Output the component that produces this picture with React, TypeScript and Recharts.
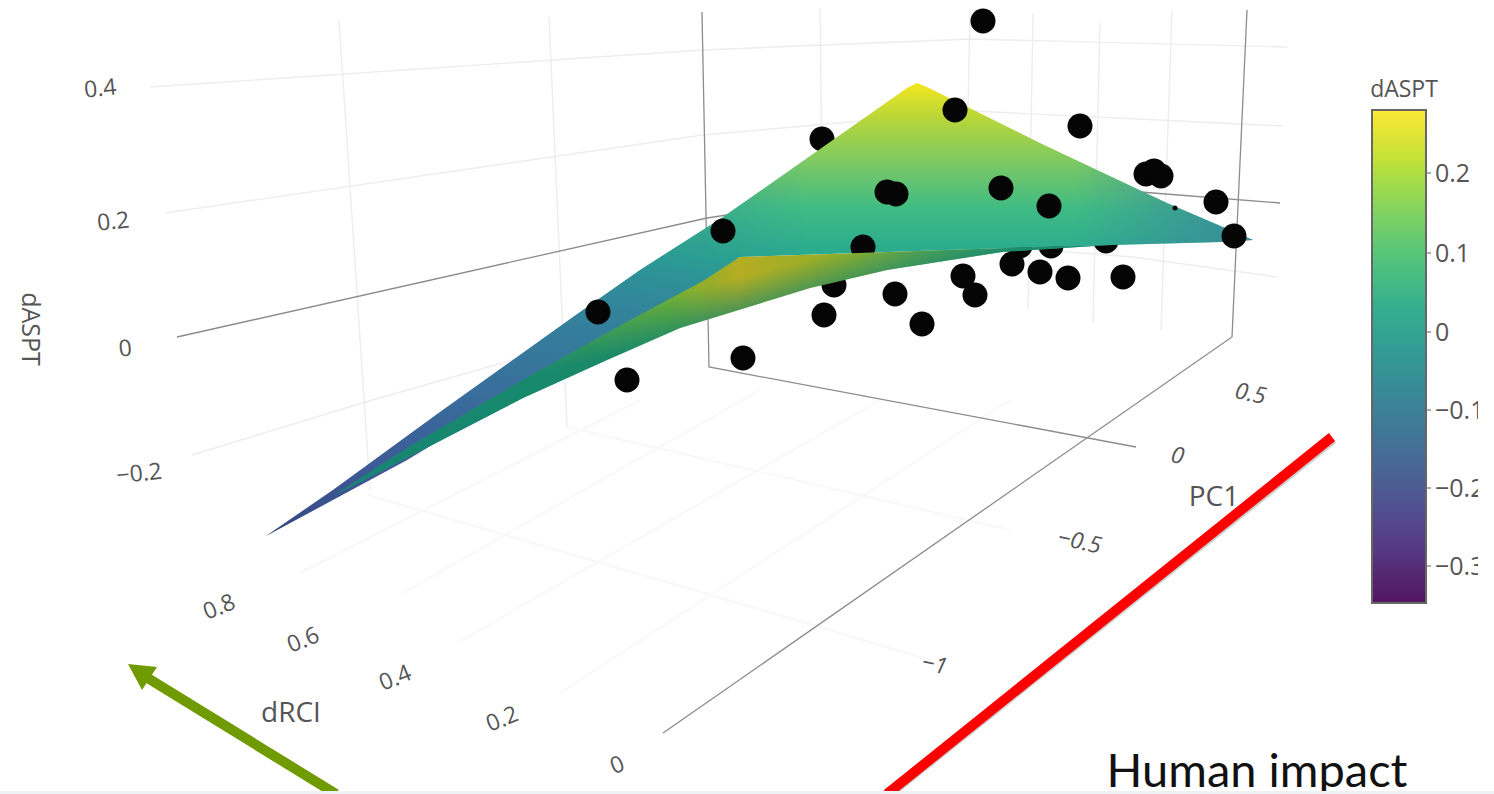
import React from 'react';
import { ScatterChart, Scatter, XAxis, YAxis, ReferenceArea } from 'recharts';

type Pt = [number, number];

// Everything in screen units; the chart's own scales place it
const CHART_W = 1494;
const CHART_H = 794;

const pointsBehind: Pt[] = [[822, 139], [1020, 246], [1051, 246], [1106, 241]];
const pointsBetween: Pt[] = [[863, 247], [834, 285]];
const pointsFront: Pt[] = [
  [983, 21], [955, 110], [1080, 126], [887, 192], [896, 194], [1001, 188], [1049, 206],
  [1146, 174], [1154, 171], [1161, 176], [1216, 202], [1234, 236], [723, 231], [598, 312],
  [627, 380], [743, 358], [824, 315], [895, 294], [922, 324], [963, 276], [975, 295],
  [1012, 264], [1040, 272], [1068, 278], [1123, 277],
];
const pointSliver: Pt[] = [[1175, 208]];

const upperSheet: Pt[] = [
  [266, 536], [333, 490], [440, 412], [573, 317], [640, 270], [723, 217], [907, 88], [917, 83],
  [927, 87], [1040, 143], [1167, 203], [1253, 240], [1220, 242], [1007, 248], [740, 257],
  [703, 283], [623, 330], [523, 390], [407, 460],
];
const lowerSheet: Pt[] = [
  [333, 496], [407, 448], [523, 380], [623, 324], [703, 281], [740, 257], [1007, 248], [1110, 245],
  [1002, 252], [887, 270], [810, 288], [680, 328], [607, 360], [523, 398], [407, 458],
];

const gridLines: Pt[][] = [
  [[150, 87], [703, 50], [970, 39], [1287, 47]],
  [[165, 213], [703, 135], [973, 111], [1283, 126]],
  [[192, 455], [362, 403], [523, 357], [708, 300], [975, 245], [1133, 257], [1277, 277]],
  [[339, 20], [370, 490]],
  [[549, 17], [567, 427]],
  [[820, 8], [823, 260]],
  [[970, 10], [965, 260]],
  [[1033, 13], [1028, 310]],
  [[1100, 23], [1093, 323]],
  [[1172, 10], [1161, 330]],
];
const floorLines: Pt[][] = [
  [[368, 495], [796, 620], [930, 660]],
  [[567, 427], [1010, 530]],
  [[300, 573], [640, 400]],
  [[403, 593], [760, 390]],
  [[457, 643], [880, 400]],
  [[560, 693], [1010, 400]],
];
const axisLines: Pt[][] = [
  [[177, 337], [707, 218], [970, 178], [1153, 193], [1280, 203]],
  [[702, 12], [709, 367], [1136, 447]],
  [[1247, 10], [1232, 337], [663, 733]],
];

const redArrow: Pt[] = [[1332, 437], [887, 794]];
const redShadow: Pt[] = [[1333, 439], [889, 794]];
const greenShaft: Pt[] = [[146, 677], [336, 794]];
const greenHead: Pt[] = [[128, 664], [157, 667], [142, 690]];
const bottomStrip: Pt[] = [[0, 791], [1494, 791], [1494, 794], [0, 794]];
const rightStrip: Pt[] = [[1478, 380], [1494, 380], [1494, 600], [1478, 600]];

const colorbarRange = { x1: 1372, x2: 1426, y1: 110, y2: 603 };

const colorbarTicks: Pt[] = [[1426, 173], [1426, 253], [1426, 332], [1426, 410], [1426, 488], [1426, 566]];
const colorbarLabels = ['0.2', '0.1', '0', '−0.1', '−0.2', '−0.3'];
const zLabels = ['0.4', '0.2', '0', '−0.2'];
const zLabelPos: Pt[] = [[101, 96], [114, 229], [126, 356], [140, 481]];
const pcLabels = ['0.5', '0', '−0.5', '−1'];
const pcLabelPos: Pt[] = [[1249, 401], [1176, 463], [1078, 549], [933, 672]];
const rciLabels = ['0.8', '0.6', '0.4', '0.2', '0'];
const rciLabelPos: Pt[] = [[222, 614], [306, 647], [398, 685], [505, 726], [620, 772]];

const viridis = [
  ['0%', '#fde725'], ['10%', '#bddf26'], ['20%', '#7ad151'], ['30%', '#44bf70'],
  ['40%', '#22a884'], ['50%', '#21918c'], ['60%', '#2a788e'], ['70%', '#355f8d'],
  ['80%', '#414487'], ['90%', '#482475'], ['100%', '#440154'],
];

const toRows = (pts: Pt[]) => pts.map(([x, y]) => ({ x, y }));
const noDot = () => null;

const polyline = (key: string, pts: Pt[], stroke: string, strokeWidth: number) => (
  <Scatter
    key={key}
    data={toRows(pts)}
    line={{ stroke, strokeWidth, fill: 'none' }}
    shape={noDot}
    isAnimationActive={false}
  />
);

const polygon = (key: string, pts: Pt[], fill: string) => (
  <Scatter
    key={key}
    data={toRows(pts)}
    line={{ stroke: 'none', fill }}
    shape={noDot}
    isAnimationActive={false}
  />
);

const dots = (key: string, pts: Pt[], r = 12.5) => (
  <Scatter
    key={key}
    data={toRows(pts)}
    shape={(p: any) => <circle cx={p.cx} cy={p.cy} r={r} fill="#050505" />}
    isAnimationActive={false}
  />
);

// one text per point, drawn through the same scales
const texts = (
  key: string,
  labels: string[],
  pts: Pt[],
  opts: { size?: number; rotate?: number; anchor?: string; color?: string; family?: string; italic?: boolean },
) => {
  const { size = 23, rotate = 0, anchor = 'middle', color = '#555', family = 'Open Sans, sans-serif', italic } = opts;
  return (
    <Scatter
      key={key}
      data={pts.map(([x, y], i) => ({ x, y, label: labels[i] }))}
      shape={(p: any) => (
        <text
          x={p.cx}
          y={p.cy}
          textAnchor={anchor as any}
          fontSize={size}
          fontFamily={family}
          fontStyle={italic ? 'italic' : 'normal'}
          fill={color}
          transform={rotate ? `rotate(${rotate} ${p.cx} ${p.cy})` : undefined}
        >
          {p.payload.label}
        </text>
      )}
      isAnimationActive={false}
    />
  );
};

export default function App() {
  return (
    <div style={{ position: 'absolute', left: 0, top: 0, width: CHART_W, height: CHART_H, overflow: 'hidden', background: '#fff' }}>
      <ScatterChart width={CHART_W} height={CHART_H} margin={{ top: 0, right: 0, bottom: 0, left: 0 }}>
        <defs>
          <linearGradient id="colorbar" x1="0" y1="0" x2="0" y2="1">
            {viridis.map(([o, c]) => <stop key={o} offset={o} stopColor={c} />)}
          </linearGradient>
          <linearGradient id="upper" gradientUnits="userSpaceOnUse" x1="0" y1="83" x2="0" y2="537">
            <stop offset="0%" stopColor="#f4e61e" />
            <stop offset="8%" stopColor="#b6d63a" />
            <stop offset="18%" stopColor="#79c865" />
            <stop offset="28%" stopColor="#3dbb85" />
            <stop offset="38%" stopColor="#29a98f" />
            <stop offset="50%" stopColor="#34869a" />
            <stop offset="68%" stopColor="#3f5f9c" />
            <stop offset="85%" stopColor="#473b93" />
            <stop offset="100%" stopColor="#3a1a6c" />
          </linearGradient>
          <linearGradient id="upperTint" gradientUnits="userSpaceOnUse" x1="620" y1="0" x2="1250" y2="0">
            <stop offset="0%" stopColor="#30809c" stopOpacity={0.45} />
            <stop offset="30%" stopColor="#30809c" stopOpacity={0} />
            <stop offset="72%" stopColor="#3a8a9c" stopOpacity={0} />
            <stop offset="100%" stopColor="#3a8a9c" stopOpacity={0.95} />
          </linearGradient>
          <linearGradient id="lower" gradientUnits="userSpaceOnUse" x1="330" y1="0" x2="1100" y2="0">
            <stop offset="0%" stopColor="#3f6a92" />
            <stop offset="22%" stopColor="#2c9a62" />
            <stop offset="44%" stopColor="#6fb034" />
            <stop offset="53%" stopColor="#b4ad22" />
            <stop offset="68%" stopColor="#8fae2c" />
            <stop offset="88%" stopColor="#4fad5e" />
            <stop offset="100%" stopColor="#2fb28a" />
          </linearGradient>
          <linearGradient id="lowerEdge" gradientUnits="userSpaceOnUse" x1="705" y1="262" x2="722" y2="328">
            <stop offset="35%" stopColor="#14866f" stopOpacity={0} />
            <stop offset="100%" stopColor="#14866f" stopOpacity={0.9} />
          </linearGradient>
        </defs>
        <XAxis type="number" dataKey="x" domain={[0, CHART_W]} hide />
        <YAxis type="number" dataKey="y" domain={[0, CHART_H]} reversed hide />

        {floorLines.map((l, i) => polyline(`floor${i}`, l, '#f8f8f8', 2))}
        {gridLines.map((l, i) => polyline(`grid${i}`, l, '#ededf0', 1.4))}
        {axisLines.map((l, i) => polyline(`axis${i}`, l, '#8c8c8c', 1.3))}

        {dots('behind', pointsBehind)}
        {polygon('upper', upperSheet, 'url(#upper)')}
        {polygon('upperTint', upperSheet, 'url(#upperTint)')}
        {dots('sliver', pointSliver, 2.5)}
        {dots('between', pointsBetween)}
        {polygon('lower', lowerSheet, 'url(#lower)')}
        {polygon('lowerEdge', lowerSheet, 'url(#lowerEdge)')}
        {dots('front', pointsFront)}

        {texts('z', zLabels, zLabelPos, { rotate: -6 })}
        {texts('pc', pcLabels, pcLabelPos, { rotate: 12, italic: true })}
        {texts('rci', rciLabels, rciLabelPos, { rotate: -22 })}
        {texts('zTitle', ['dASPT'], [[22, 329]], { rotate: 90, size: 25 })}
        {texts('pcTitle', ['PC1'], [[1214, 506]], { size: 28 })}
        {texts('rciTitle', ['dRCI'], [[291, 722]], { size: 28 })}
        {texts('cbTitle', ['dASPT'], [[1404, 97]], {})}

        <ReferenceArea {...colorbarRange} fill="url(#colorbar)" fillOpacity={0.92} stroke="#666" strokeWidth={2} />
        {colorbarTicks.map((t, i) => polyline(`cbTick${i}`, [t, [t[0] + 5, t[1]]], '#777', 1.2))}
        {colorbarTicks.map((t, i) =>
          texts(`cb${i}`, [colorbarLabels[i]], [[t[0] + 9, t[1] + 9]], { anchor: 'start', size: 25 }),
        )}
        {polygon('rightStrip', rightStrip, '#fff')}

        {polyline('redShadow', redShadow, '#ccc', 10)}
        {polyline('red', redArrow, '#ff0000', 10)}
        {polyline('greenShaft', greenShaft, '#6f9a00', 10)}
        {polygon('greenHead', greenHead, '#6f9a00')}
        {texts('human', ['Human impact'], [[1257, 787]], { size: 47, color: '#111', family: 'Lato, sans-serif' })}
        {polygon('strip', bottomStrip, '#eef0f1')}
      </ScatterChart>
    </div>
  );
}
